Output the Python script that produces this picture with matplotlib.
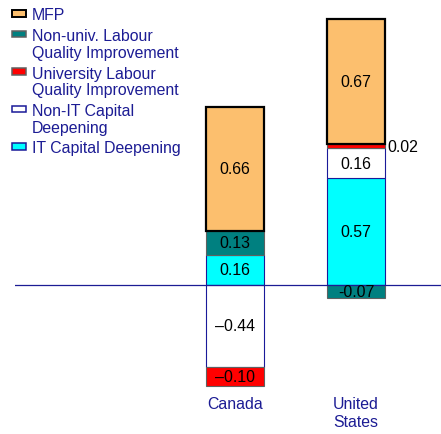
import numpy as np
import matplotlib.pyplot as plt
from matplotlib.patches import Rectangle

# data
countries = ['Canada', 'United\nStates']
components = ['IT Capital Deepening', 'Non-IT Capital\nDeepening',
              'University Labour\nQuality Improvement',
              'Non-univ. Labour\nQuality Improvement', 'MFP']
it_capital = [0.16, 0.57]
non_it_capital = [-0.44, 0.16]
univ_labour = [-0.10, 0.02]
non_univ_labour = [0.13, -0.07]
mfp = [0.66, 0.67]
minus_signs = ['\u2013', '-']

fills = ['#00ffff', '#ffffff', '#ff0000', '#008080', '#fcbf6e']
edges = ['#1a1a99', '#1a1a99', '#606060', '#606060', '#000000']
lws = [0.8, 0.8, 0.8, 0.8, 1.6]
navy = '#1c1c94'

plt.rcParams['font.family'] = ['Liberation Sans', 'DejaVu Sans']
plt.rcParams['font.size'] = 11.4

W, H = 441, 435
fig = plt.figure(figsize=(W / 100, H / 100), dpi=100)
ax = fig.add_axes([15 / W, 0, 1 - 15 / W, 1])
ax.set_xlim(-1.818, 1.702)
ax.set_ylim(-0.798, 1.528)
ax.axis('off')

x = np.arange(len(countries))
bw = 0.48
series = [it_capital, non_it_capital, univ_labour, non_univ_labour, mfp]
pos_base = np.zeros(len(x))
neg_base = np.zeros(len(x))
for vals, fc, ec, lw in zip(series, fills, edges, lws):
    vals = np.array(vals)
    bottoms = np.where(vals >= 0, pos_base, neg_base)
    ax.bar(x, vals, width=bw, bottom=bottoms, color=fc, edgecolor=ec,
           linewidth=lw, zorder=2)
    for i, v in enumerate(vals):
        txt = f"{abs(v):.2f}"
        if v < 0:
            txt = minus_signs[i] + txt
        yc = bottoms[i] + v / 2
        if abs(v) < 0.05 and v > 0:
            # too thin to hold its label, put it beside the bar
            ax.text(x[i] + bw / 2 + 0.02, yc, txt, ha='left', va='center',
                    zorder=4)
        else:
            ax.text(x[i], yc, txt, ha='center', va='center', zorder=4)
    pos_base = pos_base + np.where(vals >= 0, vals, 0)
    neg_base = neg_base + np.where(vals < 0, vals, 0)

ax.axhline(0, color=navy, lw=0.9, zorder=3)

for i, name in enumerate(countries):
    ax.text(x[i], -0.595, name, ha='center', va='top', color=navy,
            linespacing=1.25)

# legend, drawn by hand so the swatch sits on the first line
base = 20.5
for k in reversed(range(len(components))):
    fig.patches.append(Rectangle((12 / W, 1 - (base - 2.8) / H), 14 / W,
                                 6.7 / H, transform=fig.transFigure,
                                 facecolor=fills[k], edgecolor=edges[k],
                                 linewidth=1.4 if k == 4 else 1.1))
    for line in components[k].split('\n'):
        fig.text(32 / W, 1 - base / H, line, ha='left', va='baseline',
                 color=navy)
        base += 17
    base += 3.5

fig.savefig('out.png', dpi=100)
